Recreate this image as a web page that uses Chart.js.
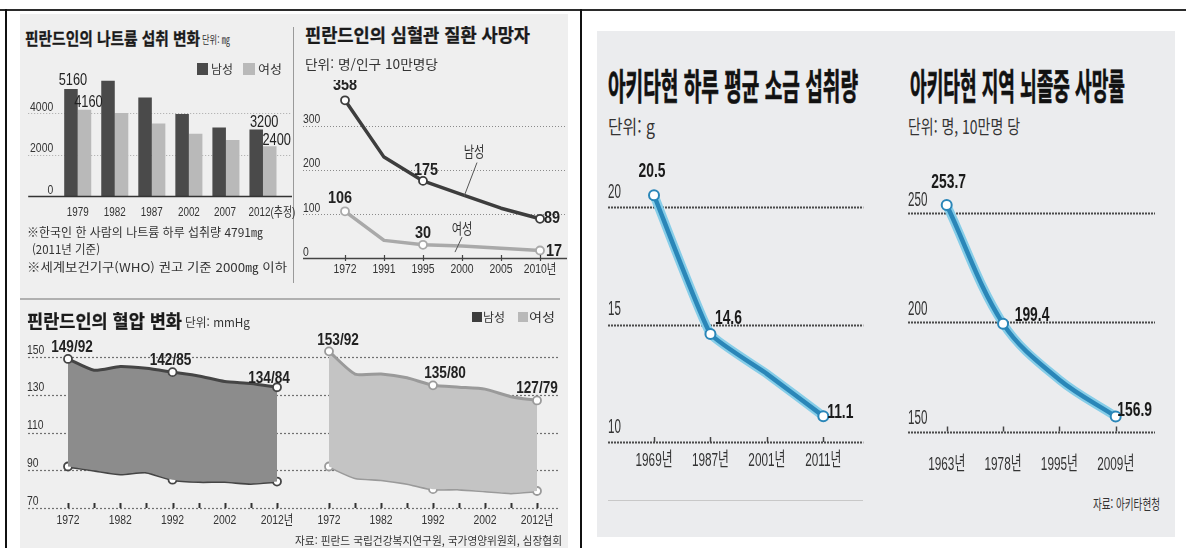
<!DOCTYPE html>
<html lang="ko">
<head>
<meta charset="utf-8">
<title>핀란드·아키타현 나트륨 섭취와 혈관 질환</title>
<script src="https://cdn.jsdelivr.net/npm/chart.js@4.4.1/dist/chart.umd.min.js"></script>
<style>
  html, body { margin: 0; padding: 0; background: #fff; }
  #page { position: relative; width: 1186px; height: 548px; overflow: hidden;
          font-family: 'Noto Sans CJK KR', sans-serif; color: #222; }
  .box { position: absolute; }
  .txt { position: absolute; white-space: nowrap; line-height: 1; transform-origin: 0 50%; }
  canvas { position: absolute; }
</style>
</head>
<body>
<div id="page">
  <!-- frame and panels -->
  <div class="box" style="left:0;top:9px;width:1186px;height:2px;background:#2b2b2b"></div>
  <div class="box" style="left:5px;top:9px;width:2px;height:539px;background:#111"></div>
  <div class="box" style="left:580px;top:9px;width:2px;height:539px;background:#111"></div>
  <div class="box" style="left:20px;top:14px;width:548px;height:534px;background:#efefef"></div>
  <div class="box" style="left:597px;top:31px;width:578px;height:506px;background:#ebecee"></div>
  <div class="box" style="left:293px;top:27px;width:1px;height:256px;background:#9a9a9a"></div>
  <div class="box" style="left:20px;top:298px;width:540px;height:2px;background:#b0b0b0"></div>
  <div class="box" style="left:608px;top:500px;width:255px;height:1px;background:#c8c8c8"></div>
  <!-- legends -->
  <div class="box" style="left:197px;top:63px;width:11px;height:12px;background:#4a4a4a"></div>
  <div class="box" style="left:243px;top:63px;width:12px;height:12px;background:#b9b9b9"></div>
  <div class="box" style="left:472px;top:312px;width:10px;height:10px;background:#3d3d3d"></div>
  <div class="box" style="left:518px;top:312px;width:10px;height:10px;background:#b9b9b9"></div>

  <canvas id="sodium" width="290" height="170" style="left:20px;top:60px"></canvas>
  <canvas id="cvd" width="282" height="200" style="left:293px;top:80px"></canvas>
  <canvas id="bpMale" width="272" height="210" style="left:20px;top:330px"></canvas>
  <canvas id="bpFemale" width="278" height="210" style="left:292px;top:330px"></canvas>
  <canvas id="salt" width="283" height="330" style="left:597px;top:150px"></canvas>
  <canvas id="stroke" width="296" height="330" style="left:880px;top:150px"></canvas>
</div>
<script>
// 핀란드인의 나트륨 섭취 변화 (mg)
const sodiumYears = ['1979', '1982', '1987', '2002', '2007', '2012(추정)'];
const sodiumMale = [5160, 5550, 4750, 3950, 3300, 3200];
const sodiumFemale = [4160, 4000, 3500, 3000, 2700, 2400];
const sodiumTicks = [0, 2000, 4000];

// 핀란드인의 심혈관 질환 사망자 (명/인구 10만명당)
const cvdYears = ['1972', '1991', '1995', '2000', '2005', '2010년'];
const cvdMale = [358, 229, 175, 144, 113, 89];
const cvdFemale = [106, 40, 30, 27, 22, 17];
const cvdTicks = [0, 100, 200, 300];

// 핀란드인의 혈압 변화 (mmHg)
const bpYears = ['1972', '1977', '1982', '1987', '1992', '1997', '2002', '2007', '2012'];
const bpTickLabels = ['1972', '', '1982', '', '1992', '', '2002', '', '2012년'];
const bpMaleSys = [149, 143, 145, 144, 142, 140, 137, 136, 134];
const bpMaleDia = [92, 90, 88, 89, 85, 84, 84, 83, 84];
const bpFemaleSys = [153, 141, 141, 139, 135, 134, 133, 129, 127];
const bpFemaleDia = [92, 86, 85, 83, 80, 80, 79, 78, 79];
const bpTicks = [70, 90, 110, 130, 150];

// 아키타현 하루 평균 소금 섭취량 (g)
const saltYears = ['1969년', '1987년', '2001년', '2011년'];
const saltValues = [20.5, 14.6, 12.9, 11.1];
const saltTicks = [10, 15, 20];

// 아키타현 지역 뇌졸중 사망률 (명, 10만명 당)
const strokeYears = ['1963년', '1978년', '1995년', '2009년'];
const strokeValues = [253.7, 199.4, 173.7, 156.9];
const strokeTicks = [150, 200, 250];

const FONT = "'Liberation Sans', 'Noto Sans CJK KR', sans-serif";
const page = document.getElementById('page');

// html text: left, vertical centre, target width, size, weight, colour, text, stroke
const texts = [
  [25, 37, 175, 17, 700, '#1a1a1a', '핀란드인의 나트륨 섭취 변화', 0.3],
  [202, 39, 28, 11, 400, '#333', '단위: ㎎'],
  [211, 69, 22, 12, 400, '#333', '남성'],
  [258, 69, 24, 12, 400, '#333', '여성'],
  [27, 232, 236, 12, 400, '#333', '※한국인 한 사람의 나트륨 하루 섭취량 4791㎎'],
  [32, 249, 68, 12, 400, '#333', '(2011년 기준)'],
  [27, 267, 260, 12, 400, '#333', '※세계보건기구(WHO) 권고 기준 2000㎎ 이하'],
  [305, 34, 225, 18, 700, '#1a1a1a', '핀란드인의 심혈관 질환 사망자', 0.3],
  [305, 63, 133, 13, 400, '#333', '단위: 명/인구 10만명당'],
  [27, 320, 155, 18, 700, '#1a1a1a', '핀란드인의 혈압 변화', 0.3],
  [185, 322, 65, 12, 400, '#333', '단위: mmHg'],
  [483, 317, 22, 12, 400, '#333', '남성'],
  [529, 317, 26, 12, 400, '#333', '여성'],
  [295, 540, 267, 11, 400, '#333', '자료: 핀란드 국립건강복지연구원, 국가영양위원회, 심장협회'],
  [608, 84, 250, 36, 700, '#111', '아키타현 하루 평균 소금 섭취량', 0.7],
  [608, 125, 47, 19, 400, '#333', '단위: g'],
  [910, 84, 215, 36, 700, '#111', '아키타현 지역 뇌졸중 사망률', 0.7],
  [908, 125, 112, 19, 400, '#333', '단위: 명, 10만명 당'],
  [1093, 503, 67, 14, 400, '#333', '자료: 아키타현청']
];

texts.forEach(([x, yc, w, size, weight, color, text, bold]) => {
  const d = document.createElement('div');
  d.className = 'txt';
  d.textContent = text;
  d.style.left = x + 'px';
  d.style.top = (yc - size / 2) + 'px';
  d.style.fontSize = size + 'px';
  d.style.fontWeight = weight;
  d.style.color = color;
  if (bold) d.style.webkitTextStroke = bold + 'px ' + color;
  page.appendChild(d);
  const natural = d.getBoundingClientRect().width;
  d.style.transform = 'scaleX(' + (w / natural) + ')';
});

function say(ctx, text, x, y, f) {
  ctx.save();
  ctx.font = f.font;
  ctx.fillStyle = f.color || '#222';
  ctx.textAlign = f.align || 'center';
  ctx.textBaseline = 'middle';
  ctx.translate(x, y);
  ctx.scale(f.sx || 0.8, 1);
  ctx.fillText(text, 0, 0);
  ctx.restore();
}

function stroke(ctx, x1, y1, x2, y2, s) {
  ctx.save();
  ctx.strokeStyle = s.color;
  ctx.lineWidth = s.width || 1;
  ctx.setLineDash(s.dash || []);
  ctx.beginPath();
  ctx.moveTo(x1, y1);
  ctx.lineTo(x2, y2);
  ctx.stroke();
  ctx.restore();
}

// infographic style axes: dotted grid, labels above lines, small tick marks
const infoAxes = {
  id: 'infoAxes',
  beforeDatasetsDraw(chart, args, o) {
    const { ctx, chartArea: a } = chart;
    const y = chart.scales.y;
    (o.grid || []).forEach(v => {
      const py = Math.round(y.getPixelForValue(v)) + 0.5;
      stroke(ctx, a.left - o.left, py, a.right + o.right, py, o.gridStyle);
    });
  },
  afterDatasetsDraw(chart, args, o) {
    const { ctx, chartArea: a } = chart;
    const x = chart.scales.x, y = chart.scales.y;
    if (o.base) {
      const py = Math.round(y.getPixelForValue(o.base.value)) + 0.5;
      stroke(ctx, a.left - o.left, py, a.right + o.right, py, o.base);
    }
    if (o.marks) {
      chart.data.labels.forEach((l, i) => {
        const px = Math.round(x.getPixelForValue(i)) + 0.5;
        stroke(ctx, px, a.bottom - o.marks.up, px, a.bottom + (o.marks.down || 0), o.marks);
      });
    }
    if (o.yLabels) {
      o.ticks.forEach(v => say(ctx, String(v), a.left - o.left + o.yLabels.dx,
        y.getPixelForValue(v) + o.yLabels.dy, o.yLabels));
    }
    const xl = o.xLabels;
    (xl.text || chart.data.labels).forEach((t, i) => {
      const shift = xl.shift ? xl.shift[i] : 0;
      if (t) say(ctx, t, x.getPixelForValue(i) + shift, a.bottom + xl.dy, xl);
    });
    (o.notes || []).forEach(n => {
      const el = chart.getDatasetMeta(n.ds).data[n.i];
      stroke(ctx, el.x + n.l1[0], el.y + n.l1[1], el.x + n.l2[0], el.y + n.l2[1], { color: '#555', width: 1 });
      say(ctx, n.text, el.x + n.t[0], el.y + n.t[1], o.noteFont);
    });
    (o.values || []).forEach(v => {
      const el = chart.getDatasetMeta(v.ds).data[v.i];
      const txt = o.format ? o.format(chart, v.i) : String(chart.data.datasets[v.ds].data[v.i]);
      say(ctx, txt, el.x + v.dx, el.y + v.dy, Object.assign({}, o.valueFont, v.align ? { align: v.align } : {}));
    });
  }
};

function options(pad, min, max, axes, extra) {
  return Object.assign({
    responsive: false,
    animation: false,
    events: [],
    layout: { padding: pad },
    plugins: { legend: { display: false }, tooltip: { enabled: false }, infoAxes: axes },
    scales: {
      x: { display: false },
      y: { display: false, min: min, max: max }
    }
  }, extra || {});
}

function lineSet(data, color, width, radius) {
  return {
    data: data, borderColor: color, borderWidth: width, tension: 0, clip: false,
    borderJoinStyle: 'round', borderCapStyle: 'round', fill: false,
    pointRadius: radius, pointBackgroundColor: '#fff', pointBorderColor: color, pointBorderWidth: 1.8
  };
}

// 1. sodium bars
new Chart(document.getElementById('sodium'), {
  type: 'bar',
  data: {
    labels: sodiumYears,
    datasets: [
      { data: sodiumMale, backgroundColor: '#4a4a4a', categoryPercentage: 0.73, barPercentage: 1 },
      { data: sodiumFemale, backgroundColor: '#b9b9b9', categoryPercentage: 0.73, barPercentage: 1 }
    ]
  },
  options: options({ left: 39.2, right: 28.5, top: 11.5, bottom: 34 }, 0, 6000, {
    ticks: sodiumTicks, grid: sodiumTicks.slice(1), left: 31, right: 10.5,
    gridStyle: { color: '#a8a8a8', width: 1, dash: [1, 2] },
    base: { value: 0, color: '#333', width: 1.5 },
    yLabels: { dx: 25, dy: -6, align: 'right', font: '13px ' + FONT, color: '#333', sx: 0.8 },
    xLabels: { dy: 16, font: '13px ' + FONT, color: '#333', sx: 0.76, shift: [0, 0, 0, 0, -1, 9] },
    valueFont: { font: '16px ' + FONT, color: '#222', sx: 0.8 },
    values: [
      { ds: 0, i: 0, dx: 2, dy: -8 }, { ds: 1, i: 0, dx: 4, dy: -7 },
      { ds: 0, i: 5, dx: 8, dy: -7 }, { ds: 1, i: 5, dx: 7, dy: -6 }
    ]
  }),
  plugins: [infoAxes]
});

// 2. cardiovascular deaths
new Chart(document.getElementById('cvd'), {
  type: 'line',
  data: {
    labels: cvdYears,
    datasets: [
      lineSet(cvdMale, '#3d3d3d', 3.5, [4, 0, 4, 0, 0, 4]),
      lineSet(cvdFemale, '#a9a9a9', 3.5, [4, 0, 4, 0, 0, 4])
    ]
  },
  options: options({ left: 52, right: 35, top: 15, bottom: 22 }, 0, 370, {
    ticks: cvdTicks, grid: cvdTicks.slice(1), left: 42, right: 27,
    gridStyle: { color: '#8a8a8a', width: 1, dash: [1, 2] },
    base: { value: 0, color: '#444', width: 1.5 },
    marks: { up: 3, down: 3, color: '#444', width: 1.2 },
    yLabels: { dx: 0, dy: -6, align: 'left', font: '13px ' + FONT, color: '#333', sx: 0.8 },
    xLabels: { dy: 11, font: '13px ' + FONT, color: '#333', sx: 0.8 },
    valueFont: { font: 'bold 17px ' + FONT, color: '#222', sx: 0.85 },
    noteFont: { font: '15px ' + FONT, color: '#333', sx: 0.75 },
    notes: [
      { ds: 0, i: 3, text: '남성', t: [12, -42], l1: [15, -32], l2: [2, 2] },
      { ds: 1, i: 3, text: '여성', t: [0, -16], l1: [0, -9], l2: [-7, 6] }
    ],
    values: [
      { ds: 0, i: 0, dx: 0, dy: -15 }, { ds: 0, i: 2, dx: 3, dy: -11 }, { ds: 0, i: 5, dx: 4, dy: 0, align: 'left' },
      { ds: 1, i: 0, dx: -5, dy: -13 }, { ds: 1, i: 2, dx: 0, dy: -11 }, { ds: 1, i: 5, dx: 6, dy: 1, align: 'left' }
    ]
  }),
  plugins: [infoAxes]
});

// 3-4. blood pressure bands
function bpChart(id, sys, dia, line, band, pad, axes) {
  new Chart(document.getElementById(id), {
    type: 'line',
    data: {
      labels: bpYears,
      datasets: [
        Object.assign(lineSet(sys, line, 3, [4, 0, 0, 0, 4, 0, 0, 0, 4]), { fill: '+1', backgroundColor: band, tension: 0.2 }),
        Object.assign(lineSet(dia, line, 3, [4, 0, 0, 0, 4, 0, 0, 0, 4]), { tension: 0.2 })
      ]
    },
    options: options(pad, 70, 155, Object.assign({
      ticks: bpTicks, grid: bpTicks,
      gridStyle: { color: 'rgba(70,70,70,0.75)', width: 1.2, dash: [2, 2] },
      marks: { up: 5, color: '#333', width: 2 },
      xLabels: { text: bpTickLabels, dy: 12, font: '13px ' + FONT, color: '#333', sx: 0.8 },
      valueFont: { font: 'bold 16px ' + FONT, color: '#222', sx: 0.85 },
      format: (c, i) => c.data.datasets[0].data[i] + '/' + c.data.datasets[1].data[i]
    }, axes)),
    plugins: [infoAxes]
  });
}
bpChart('bpMale', bpMaleSys, bpMaleDia, '#454545', '#8c8c8c',
  { left: 48, right: 15, top: 17.6, bottom: 32 }, {
    left: 40, right: 15,
    yLabels: { dx: -1, dy: -7, align: 'left', font: '13px ' + FONT, color: '#333', sx: 0.8 },
    values: [{ ds: 0, i: 0, dx: 4, dy: -11 }, { ds: 0, i: 4, dx: -2, dy: -12 }, { ds: 0, i: 8, dx: -8, dy: -9 }]
  });
bpChart('bpFemale', bpFemaleSys, bpFemaleDia, '#9a9a9a', '#c4c4c4',
  { left: 37, right: 33, top: 17.6, bottom: 32 }, {
    left: 37, right: 23,
    values: [{ ds: 0, i: 0, dx: 9, dy: -11 }, { ds: 0, i: 4, dx: 12, dy: -12 }, { ds: 0, i: 8, dx: 0, dy: -12 }]
  });

// 5-6. Akita lines
function akitaChart(id, labels, values, ticks, min, max, pad, axes) {
  new Chart(document.getElementById(id), {
    type: 'line',
    data: {
      labels: labels,
      datasets: [
        Object.assign(lineSet(values, '#2a86b8', 4.5, [5, 5, 0, 5]), { pointBorderWidth: 2, tension: axes.tension }),
        Object.assign(lineSet(values, '#86cde8', 9, 0), { tension: axes.tension })
      ]
    },
    options: options(pad, min, max, Object.assign({
      ticks: ticks, grid: ticks,
      gridStyle: { color: '#4a4a4a', width: 2, dash: [2, 1] },
      marks: { up: 5, color: '#444', width: 1.5 },
      valueFont: { font: 'bold 21px ' + FONT, color: '#1a1a1a', sx: 0.66 }
    }, axes)),
    plugins: [infoAxes]
  });
}
akitaChart('salt', saltYears, saltValues, saltTicks, 10, 21,
  { left: 57, right: 56.7, top: 33.5, bottom: 38 }, {
    tension: 0.12, left: 46, right: 40,
    yLabels: { dx: 0, dy: -15, align: 'left', font: '20px ' + FONT, color: '#333', sx: 0.58 },
    xLabels: { dy: 19, font: '19px ' + FONT, color: '#333', sx: 0.62 },
    values: [{ ds: 0, i: 0, dx: -2, dy: -24 }, { ds: 0, i: 1, dx: 18, dy: -16 }, { ds: 0, i: 3, dx: 17, dy: -4 }]
  });
akitaChart('stroke', strokeYears, strokeValues, strokeTicks, 150, 265,
  { left: 66.7, right: 60.3, top: 30.4, bottom: 48.5 }, {
    tension: 0.35, left: 38.7, right: 39.3,
    yLabels: { dx: 0, dy: -13, align: 'left', font: '20px ' + FONT, color: '#333', sx: 0.58 },
    xLabels: { dy: 33, font: '19px ' + FONT, color: '#333', sx: 0.62 },
    values: [{ ds: 0, i: 0, dx: 2, dy: -23 }, { ds: 0, i: 1, dx: 29, dy: -8 }, { ds: 0, i: 3, dx: 19, dy: -6 }]
  });
</script>
</body>
</html>
